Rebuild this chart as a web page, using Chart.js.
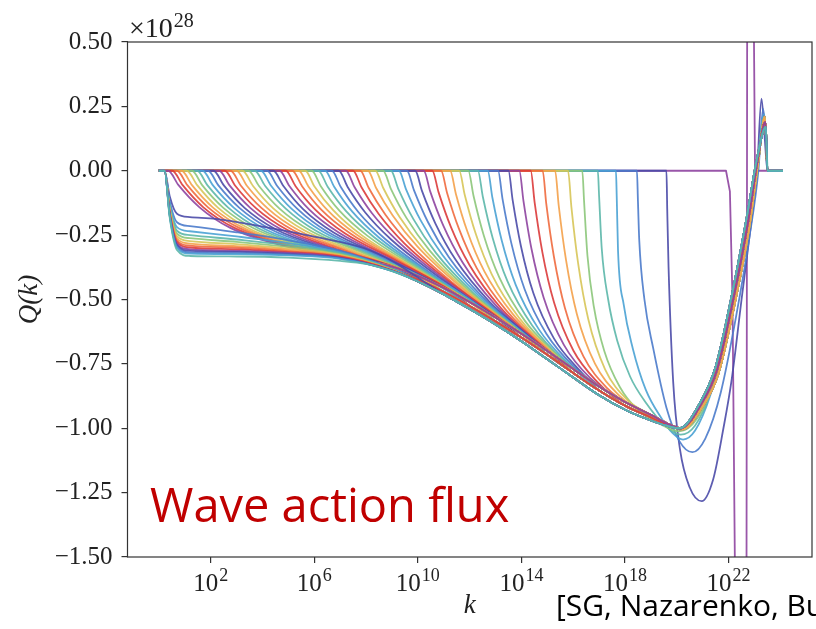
<!DOCTYPE html>
<html>
<head>
<meta charset="utf-8">
<title>Wave action flux</title>
<script src="https://cdn.jsdelivr.net/npm/chart.js@4.4.0/dist/chart.umd.min.js"></script>
<style>
  html, body { margin: 0; padding: 0; background: #fff; }
  canvas { display: block; }
</style>
</head>
<body>
<canvas id="fluxChart" width="816" height="629"></canvas>
<script>
// all points are [log10 k, Q / 1e28]

// tick positions
var xTickExps = [2, 6, 10, 14, 18, 22];
var yTickValues = [-1.5, -1.25, -1.0, -0.75, -0.5, -0.25, 0, 0.25, 0.5];

// colours cycle in time order
var lineColors = ['#8e44a0e6', '#4b4ba8e6', '#4b7bcbe6', '#4aa2d4e6', '#5cb7aae6',
                  '#8cc77ae6', '#d7c558e6', '#f4a14ae6', '#ef6a3ee6', '#dc3b3be6'];

// first curve: spike near k ~ 1e22, runs off the plot both ways
var spikeCurve = [[0, 0], [21.9, 0], [22.05, -0.08], [22.15, -0.5], [22.24, -1.5], [22.35, -5],
  [22.5, -6], [22.65, -5], [22.71, 0], [22.77, 5], [22.88, 6], [22.95, 4], [22.98, 0.5],
  [23.02, 0], [24.1, 0]];

// the earliest fronts, they overshoot below -1
var earlyCurves = [
  [[19.6, 0], [19.63, -0.15], [19.68, -0.37], [19.86, -0.82], [20.12, -1.08], [20.5, -1.23],
   [20.96, -1.283], [21.4, -1.2], [21.8, -1.0], [22.12, -0.81], [22.5, -0.5], [22.9, -0.18],
   [23.1, 0.0], [23.27, 0.28], [23.4, 0.12], [23.5, 0], [24.1, 0]],
  [[18.46, 0], [18.5, -0.12], [18.55, -0.27], [18.75, -0.5], [19.09, -0.69], [19.6, -0.92],
   [20.1, -1.05], [20.6, -1.093], [21.1, -1.04], [21.7, -0.86], [22.3, -0.56], [22.8, -0.26],
   [23.15, 0.0], [23.33, 0.24], [23.45, 0.12], [23.5, 0], [24.1, 0]],
  [[17.65, 0], [17.68, -0.1], [17.73, -0.31], [17.95, -0.52], [18.3, -0.69], [18.8, -0.85],
   [19.4, -0.96], [19.85, -1.02], [20.24, -1.044], [20.7, -1.01], [21.3, -0.87], [22.0, -0.6],
   [22.6, -0.3], [23.1, 0.0], [23.36, 0.22], [23.48, 0.08], [23.5, 0], [24.1, 0]],
  [[16.95, 0], [17.0, -0.1], [17.1, -0.3], [17.35, -0.5], [17.7, -0.66], [18.2, -0.8],
   [18.8, -0.9], [19.5, -0.985], [20.15, -1.025], [20.7, -0.99], [21.3, -0.86], [22.0, -0.58],
   [22.6, -0.28], [23.1, 0.01], [23.38, 0.21], [23.48, 0.06], [23.5, 0], [24.1, 0]],
  [[16.35, 0], [16.42, -0.12], [16.55, -0.33], [16.8, -0.53], [17.2, -0.7], [17.8, -0.84],
   [18.5, -0.93], [19.3, -0.98], [20.1, -1.012], [20.8, -0.96], [21.4, -0.83], [22.1, -0.54],
   [22.65, -0.25], [23.1, 0.02], [23.4, 0.2], [23.5, 0], [24.1, 0]]
];

// later fronts: where each curve leaves zero and how it bends down into the band
var frontCurves = [
  [[15.8, 0], [15.93, -0.141], [16.19, -0.36], [16.58, -0.576], [17.23, -0.771], [18.08, -0.889]],
  [[15.3, 0], [15.44, -0.135], [15.72, -0.345], [16.14, -0.556], [16.84, -0.749], [17.75, -0.87]],
  [[14.82, 0], [14.96, -0.129], [15.25, -0.331], [15.68, -0.533], [16.4, -0.722], [17.34, -0.847]],
  [[14.36, 0], [14.51, -0.123], [14.81, -0.317], [15.26, -0.512], [16.01, -0.699], [16.99, -0.826]],
  [[13.92, 0], [14.08, -0.118], [14.39, -0.304], [14.86, -0.493], [15.64, -0.676], [16.65, -0.804]],
  [[13.5, 0], [13.66, -0.113], [13.98, -0.292], [14.46, -0.475], [15.26, -0.652], [16.3, -0.781]],
  [[13.1, 0], [13.27, -0.109], [13.61, -0.281], [14.12, -0.459], [14.97, -0.634], [16.08, -0.766]],
  [[12.7, 0], [12.88, -0.105], [13.24, -0.271], [13.78, -0.443], [14.68, -0.617], [15.85, -0.752]],
  [[12.32, 0], [12.51, -0.101], [12.89, -0.261], [13.46, -0.429], [14.41, -0.6], [15.65, -0.738]],
  [[11.95, 0], [12.15, -0.097], [12.55, -0.252], [13.15, -0.415], [14.15, -0.585], [15.45, -0.725]],
  [[11.6, 0], [11.81, -0.093], [12.23, -0.243], [12.86, -0.403], [13.91, -0.571], [15.28, -0.713]],
  [[11.25, 0], [11.47, -0.09], [11.91, -0.235], [12.57, -0.391], [13.67, -0.557], [15.1, -0.7]],
  [[10.9, 0], [11.13, -0.086], [11.59, -0.226], [12.28, -0.379], [13.43, -0.544], [14.93, -0.689]],
  [[10.56, 0], [10.8, -0.083], [11.28, -0.219], [12.0, -0.367], [13.2, -0.532], [14.76, -0.678]],
  [[10.23, 0], [10.48, -0.081], [10.98, -0.212], [11.73, -0.356], [12.98, -0.519], [14.61, -0.668]],
  [[9.9, 0], [10.16, -0.078], [10.68, -0.205], [11.46, -0.346], [12.76, -0.508], [14.45, -0.658]],
  [[9.58, 0], [9.85, -0.075], [10.39, -0.199], [11.2, -0.336], [12.55, -0.496], [14.31, -0.649]],
  [[9.27, 0], [9.55, -0.073], [10.11, -0.193], [10.95, -0.327], [12.35, -0.485], [14.17, -0.639]],
  [[8.96, 0], [9.25, -0.071], [9.83, -0.188], [10.7, -0.319], [12.15, -0.475], [14.04, -0.631]],
  [[8.66, 0], [8.96, -0.07], [9.56, -0.183], [10.46, -0.31], [11.96, -0.465], [13.91, -0.623]],
  [[8.36, 0], [8.67, -0.068], [9.29, -0.179], [10.22, -0.303], [11.77, -0.455], [13.79, -0.616]],
  [[8.07, 0], [8.39, -0.067], [9.03, -0.174], [9.99, -0.295], [11.59, -0.446], [13.67, -0.608]],
  [[7.78, 0], [8.1, -0.066], [8.75, -0.171], [9.72, -0.288], [11.34, -0.435], [13.45, -0.595]],
  [[7.5, 0], [7.83, -0.065], [8.49, -0.168], [9.48, -0.282], [11.13, -0.424], [13.28, -0.585]],
  [[7.22, 0], [7.56, -0.064], [8.23, -0.165], [9.24, -0.275], [10.92, -0.414], [13.1, -0.573]],
  [[6.95, 0], [7.29, -0.063], [7.97, -0.162], [8.99, -0.269], [10.69, -0.404], [12.9, -0.562]],
  [[6.68, 0], [7.02, -0.062], [7.71, -0.161], [8.74, -0.265], [10.46, -0.395], [12.7, -0.55]],
  [[6.42, 0], [6.77, -0.062], [7.47, -0.159], [8.52, -0.261], [10.27, -0.387], [12.55, -0.541]],
  [[6.16, 0], [6.52, -0.062], [7.23, -0.157], [8.3, -0.257], [10.08, -0.379], [12.39, -0.532]],
  [[5.9, 0], [6.26, -0.061], [6.98, -0.156], [8.06, -0.253], [9.86, -0.371], [12.2, -0.521]],
  [[5.65, 0], [6.01, -0.061], [6.74, -0.154], [7.83, -0.25], [9.65, -0.364], [12.02, -0.51]],
  [[5.4, 0], [5.77, -0.06], [6.51, -0.153], [7.62, -0.247], [9.47, -0.357], [11.88, -0.502]],
  [[5.15, 0], [5.53, -0.06], [6.28, -0.152], [7.41, -0.245], [9.29, -0.352], [11.73, -0.495]],
  [[4.9, 0], [5.28, -0.06], [6.04, -0.151], [7.18, -0.243], [9.08, -0.345], [11.55, -0.485]],
  [[4.66, 0], [5.04, -0.059], [5.81, -0.151], [6.96, -0.241], [8.88, -0.34], [11.38, -0.476]],
  [[4.42, 0], [4.81, -0.059], [5.58, -0.15], [6.75, -0.24], [8.69, -0.335], [11.21, -0.468]],
  [[4.18, 0], [4.57, -0.059], [5.36, -0.149], [6.53, -0.238], [8.49, -0.331], [11.04, -0.458]],
  [[3.94, 0], [4.34, -0.059], [5.13, -0.148], [6.32, -0.236], [8.3, -0.327], [10.87, -0.45]],
  [[3.7, 0], [4.1, -0.058], [4.9, -0.147], [6.1, -0.235], [8.1, -0.323], [10.7, -0.442]],
  [[3.46, 0], [3.86, -0.058], [4.66, -0.147], [5.86, -0.233], [7.86, -0.318], [10.46, -0.431]],
  [[3.23, 0], [3.63, -0.058], [4.43, -0.147], [5.63, -0.232], [7.63, -0.315], [10.23, -0.42]],
  [[3.0, 0], [3.4, -0.058], [4.2, -0.146], [5.4, -0.231], [7.4, -0.312], [10.0, -0.409]],
  [[2.77, 0], [3.17, -0.058], [3.97, -0.145], [5.17, -0.23], [7.17, -0.309], [9.77, -0.401]],
  [[2.55, 0], [2.95, -0.058], [3.75, -0.145], [4.95, -0.229], [6.95, -0.307], [9.55, -0.393]],
  [[2.33, 0], [2.73, -0.057], [3.53, -0.144], [4.73, -0.228], [6.73, -0.304], [9.33, -0.385]],
  [[2.11, 0], [2.51, -0.057], [3.31, -0.144], [4.51, -0.227], [6.51, -0.302], [9.11, -0.377]],
  [[1.9, 0], [2.3, -0.057], [3.1, -0.143], [4.3, -0.226], [6.3, -0.3], [8.9, -0.372]],
  [[1.69, 0], [2.09, -0.057], [2.89, -0.143], [4.09, -0.226], [6.09, -0.299], [8.69, -0.366]],
  [[1.48, 0], [1.88, -0.057], [2.68, -0.143], [3.88, -0.225], [5.88, -0.297], [8.48, -0.361]],
  [[1.28, 0], [1.68, -0.057], [2.48, -0.143], [3.68, -0.224], [5.68, -0.296], [8.28, -0.356]],
  [[1.08, 0], [1.48, -0.056], [2.28, -0.143], [3.48, -0.224], [5.48, -0.294], [8.08, -0.351]],
  [[0.88, 0], [1.28, -0.056], [2.08, -0.142], [3.28, -0.223], [5.28, -0.293], [7.88, -0.347]],
  [[0.7, 0], [1.1, -0.056], [1.9, -0.142], [3.1, -0.222], [5.1, -0.292], [7.7, -0.344]],
  [[0.52, 0], [0.92, -0.056], [1.72, -0.142], [2.92, -0.222], [4.92, -0.292], [7.52, -0.342]],
  [[0.36, 0], [0.76, -0.056], [1.56, -0.141], [2.76, -0.222], [4.76, -0.29], [7.36, -0.34]]
];

// curves once the front has reached k = 1 (plateau at small k)
var filledCurves = [
  [[0.42, -0.099], [0.7, -0.167], [1.2, -0.18], [2.2, -0.187], [4, -0.217], [6, -0.256], [7.9, -0.3], [9, -0.35], [10, -0.415]],
  [[0.42, -0.118], [0.7, -0.2], [1.2, -0.215], [3, -0.239], [5, -0.27], [7, -0.31], [9, -0.381]],
  [[0.42, -0.129], [0.7, -0.219], [1.2, -0.235], [3, -0.255], [5, -0.281], [7, -0.316], [9, -0.382]],
  [[0.42, -0.138], [0.7, -0.233], [1.2, -0.25], [3, -0.267], [5, -0.289], [7, -0.32], [9, -0.383]],
  [[0.42, -0.144], [0.7, -0.244], [1.2, -0.262], [3, -0.276], [5, -0.296], [7, -0.324], [9, -0.384]],
  [[0.42, -0.15], [0.7, -0.254], [1.2, -0.273], [3, -0.285], [5, -0.302], [7, -0.327], [9, -0.385]],
  [[0.42, -0.156], [0.7, -0.263], [1.2, -0.283], [3, -0.293], [5, -0.307], [7, -0.33], [9, -0.386]],
  [[0.42, -0.16], [0.7, -0.271], [1.2, -0.291], [3, -0.299], [5, -0.312], [7, -0.332], [9, -0.386]],
  [[0.42, -0.164], [0.7, -0.277], [1.2, -0.298], [3, -0.305], [5, -0.316], [7, -0.334], [9, -0.387]],
  [[0.42, -0.168], [0.7, -0.284], [1.2, -0.305], [3, -0.311], [5, -0.319], [7, -0.337], [9, -0.388]],
  [[0.42, -0.171], [0.7, -0.289], [1.2, -0.311], [3, -0.315], [5, -0.323], [7, -0.338], [9, -0.388]],
  [[0.42, -0.174], [0.7, -0.295], [1.2, -0.317], [3, -0.32], [5, -0.326], [7, -0.34], [9, -0.389]],
  [[0.42, -0.177], [0.7, -0.299], [1.2, -0.322], [3, -0.324], [5, -0.329], [7, -0.342], [9, -0.389]],
  [[0.42, -0.182], [0.7, -0.308], [1.2, -0.331], [3, -0.333], [5, -0.337], [7, -0.35], [8, -0.362], [9, -0.39]]
];

// the band everything runs into on the way down to the minimum
var bandK   = [8, 9, 10, 11, 12, 13, 14, 15, 16, 17, 18, 19, 19.6];
var bandHi  = [-0.35, -0.372, -0.408, -0.455, -0.51, -0.57, -0.633, -0.7, -0.77, -0.838, -0.898, -0.948, -0.98];
var bandMid = [-0.36, -0.385, -0.422, -0.47, -0.525, -0.585, -0.648, -0.715, -0.785, -0.853, -0.912, -0.958, -0.985];
var bandLo  = [-0.362, -0.39, -0.43, -0.48, -0.537, -0.597, -0.662, -0.732, -0.803, -0.872, -0.928, -0.97, -0.99];

// rise through zero and the little bump at the right
var tailEarly = [[20.2, -1.005], [21.0, -0.915], [21.6, -0.79], [22.27, -0.5], [22.8, -0.22], [23.14, 0.03], [23.4, 0.21], [23.5, 0], [24.1, 0]];
var tailMid   = [[20.15, -1.0], [20.95, -0.905], [21.55, -0.775], [22.22, -0.48], [22.75, -0.2], [23.12, 0.04], [23.42, 0.19], [23.5, 0], [24.1, 0]];
var tailLo    = [[20.1, -1.0], [20.9, -0.9], [21.5, -0.76], [22.17, -0.46], [22.7, -0.18], [23.1, 0.05], [23.44, 0.17], [23.5, 0], [24.1, 0]];

function bandPoints(levels, after) {
  var pts = [];
  for (var i = 0; i < bandK.length; i++) {
    if (bandK[i] > after + 0.4) pts.push([bandK[i], levels[i]]);
  }
  return pts;
}

// put the curves together in time order
var curves = [spikeCurve];
earlyCurves.forEach(function (c) {
  curves.push([[0, 0]].concat(c));
});
frontCurves.forEach(function (c, i) {
  var last = c[c.length - 1][0];
  var band = i % 2 === 0 ? bandHi : bandMid;
  var tail = c[0][0] > 11 ? tailEarly : tailMid;
  curves.push([[0, 0]].concat(c, bandPoints(band, last), tail));
});
filledCurves.forEach(function (c) {
  var last = c[c.length - 1][0];
  curves.push([[0, 0], [0.22, 0]].concat(c, bandPoints(bandLo, last), tailLo));
});

var n = curves.length;
var datasets = curves.map(function (c, i) {
  return {
    data: c.map(function (p) { return { x: Math.pow(10, p[0]), y: p[1] }; }),
    borderColor: lineColors[i % lineColors.length],
    borderWidth: 1.8,
    borderJoinStyle: 'round',
    pointRadius: 0,
    fill: false,
    tension: i === 0 ? 0 : 0.4,
    cubicInterpolationMode: i === 0 ? 'default' : 'monotone',
    order: n - i   // later curves on top, like matplotlib
  };
});

// frame, x tick labels with raised exponents, and the texts around the plot
var decorations = {
  id: 'decorations',
  afterDraw: function (chart) {
    var ctx = chart.ctx;
    var a = chart.chartArea;
    var xs = chart.scales.x;
    ctx.save();
    ctx.strokeStyle = '#333';
    ctx.lineWidth = 1.2;
    ctx.strokeRect(a.left, a.top, a.right - a.left, a.bottom - a.top);

    ctx.fillStyle = '#222';
    ctx.textBaseline = 'alphabetic';
    ctx.textAlign = 'left';
    xTickExps.forEach(function (e) {
      var px = xs.getPixelForValue(Math.pow(10, e));
      ctx.font = '25px "Liberation Serif"';
      var wBase = ctx.measureText('10').width;
      ctx.font = '18px "Liberation Serif"';
      var wExp = ctx.measureText(String(e)).width;
      var x0 = px - (wBase + wExp + 1) / 2;
      ctx.font = '25px "Liberation Serif"';
      ctx.fillText('10', x0, 591);
      ctx.font = '18px "Liberation Serif"';
      ctx.fillText(String(e), x0 + wBase + 1, 581);
    });

    ctx.font = '28px "Liberation Serif"';
    ctx.fillText('\u00d710', 129, 37);
    var w = ctx.measureText('\u00d710').width;
    ctx.font = '20px "Liberation Serif"';
    ctx.fillText('28', 129 + w + 1, 27);

    ctx.font = 'italic 27px "Liberation Serif"';
    ctx.textAlign = 'center';
    ctx.fillText('k', (a.left + a.right) / 2, 613);

    ctx.save();
    ctx.translate(30, (a.top + a.bottom) / 2);
    ctx.rotate(-Math.PI / 2);
    ctx.textBaseline = 'middle';
    ctx.fillText('Q(k)', 0, 0);
    ctx.restore();

    ctx.textAlign = 'left';
    ctx.fillStyle = '#c00000';
    ctx.font = '47px "Open Sans"';
    ctx.fillText('Wave action flux', 150, 522);

    ctx.fillStyle = '#000';
    ctx.font = '30px "Open Sans"';
    ctx.fillText('[SG, Nazarenko, Bu', 556, 616);
    ctx.restore();
  }
};

new Chart(document.getElementById('fluxChart').getContext('2d'), {
  type: 'line',
  data: { datasets: datasets },
  plugins: [decorations],
  options: {
    responsive: false,
    animation: false,
    events: [],
    layout: { padding: { top: 42, right: 4, left: 0, bottom: 0 } },
    plugins: { legend: { display: false }, tooltip: { enabled: false } },
    scales: {
      x: {
        type: 'logarithmic',
        min: Math.pow(10, -1.21),
        max: Math.pow(10, 25.22),
        afterBuildTicks: function (axis) {
          axis.ticks = xTickExps.map(function (e) { return { value: Math.pow(10, e) }; });
        },
        afterFit: function (axis) { axis.height = 72; },
        ticks: { display: false },
        grid: { drawOnChartArea: false, tickLength: 6, color: '#333', lineWidth: 1.2 },
        border: { display: false }
      },
      y: {
        type: 'linear',
        min: -1.5,
        max: 0.5,
        afterBuildTicks: function (axis) {
          axis.ticks = yTickValues.map(function (v) { return { value: v }; });
        },
        afterFit: function (axis) { axis.width = 127.5; },
        ticks: {
          padding: 9,
          color: '#222',
          font: { family: 'Liberation Serif', size: 25 },
          callback: function (value) {
            return value.toFixed(2).replace('-', '\u2212');
          }
        },
        grid: { drawOnChartArea: false, tickLength: 6, color: '#333', lineWidth: 1.2 },
        border: { display: false }
      }
    }
  }
});
</script>
</body>
</html>
